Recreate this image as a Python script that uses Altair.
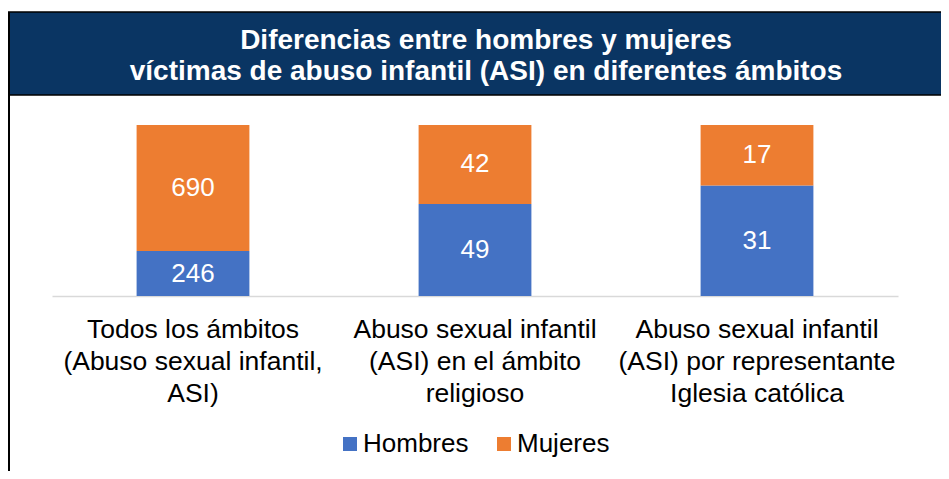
import altair as alt
import pandas as pd

categories = [
    "Todos los ámbitos (Abuso sexual infantil, ASI)",
    "Abuso sexual infantil (ASI) en el ámbito religioso",
    "Abuso sexual infantil (ASI) por representante Iglesia católica",
]
category_lines = [
    ["Todos los ámbitos", "(Abuso sexual infantil,", "ASI)"],
    ["Abuso sexual infantil", "(ASI) en el ámbito", "religioso"],
    ["Abuso sexual infantil", "(ASI) por representante", "Iglesia católica"],
]
series = ["Hombres", "Mujeres"]
hombres = [246, 49, 31]
mujeres = [690, 42, 17]
colors = ["#4472C4", "#ED7D31"]
title_lines = ["Diferencias entre hombres y mujeres",
               "víctimas de abuso infantil (ASI) en diferentes ámbitos"]

rows = []
for i, c in enumerate(categories):
    lab = "|".join(category_lines[i])
    rows.append({"cat": lab, "sex": series[0], "value": hombres[i]})
    rows.append({"cat": lab, "sex": series[1], "value": mujeres[i]})
df = pd.DataFrame(rows)
order = ["|".join(l) for l in category_lines]

FONT = "Liberation Sans"

base = alt.Chart(df).transform_stack(
    stack="value", groupby=["cat"], as_=["y0", "y1"], offset="normalize",
    sort=[alt.SortField("sex", order="ascending")]
).transform_calculate(mid="(datum.y0 + datum.y1) / 2")

xenc = alt.X("cat:N", sort=order, title=None,
             scale=alt.Scale(paddingInner=0.6, paddingOuter=0.3),
             axis=alt.Axis(labelAngle=0, ticks=False, domainColor="#d9d9d9",
                           domainWidth=1.5, labelFont=FONT, labelFontSize=26.5,
                           labelColor="#000000", labelLimit=400, labelLineHeight=32,
                           labelPadding=20, labelExpr="split(datum.label, '|')"))

bars = base.mark_bar().encode(
    x=xenc,
    y=alt.Y("y0:Q", axis=None, scale=alt.Scale(domain=[0, 1])),
    y2="y1:Q",
    color=alt.Color("sex:N", scale=alt.Scale(domain=series, range=colors), title=None,
                    legend=alt.Legend(orient="none", legendX=285, legendY=306,
                                      direction="horizontal", symbolType="square",
                                      symbolSize=196, symbolStrokeWidth=0,
                                      labelFont=FONT, labelFontSize=26,
                                      labelColor="#000000", labelOffset=0,
                                      columnPadding=22)),
)

texts = base.mark_text(font=FONT, fontSize=26, color="white").encode(
    x=alt.X("cat:N", sort=order),
    y=alt.Y("mid:Q"),
    text="value:Q",
)

one = alt.Data(values=[{"k": 1}])
band = alt.Chart(one).mark_rect(color="#0a3563", stroke="#000000", strokeWidth=1.5).encode(
    x=alt.value(-44), x2=alt.value(897), y=alt.value(-113), y2=alt.value(-30))
left = alt.Chart(one).mark_rule(color="#000000", strokeWidth=2).encode(
    x=alt.value(-43), y=alt.value(-113), y2=alt.value(360))
title = alt.Chart(one).mark_text(text=title_lines, font=FONT, fontSize=28, fontWeight="bold",
                                 color="white", lineHeight=31, baseline="middle").encode(
    x=alt.value(434), y=alt.value(-84))

chart = alt.layer(band, left, title, bars, texts).properties(
    width=846, height=171,
    autosize=alt.AutoSizeParams(type="none"),
    padding={"left": 44, "top": 117, "right": 43, "bottom": 175},
    background="white",
).configure_view(stroke=None)

chart.save("out.html", embed_options={"renderer": "svg", "actions": False})
